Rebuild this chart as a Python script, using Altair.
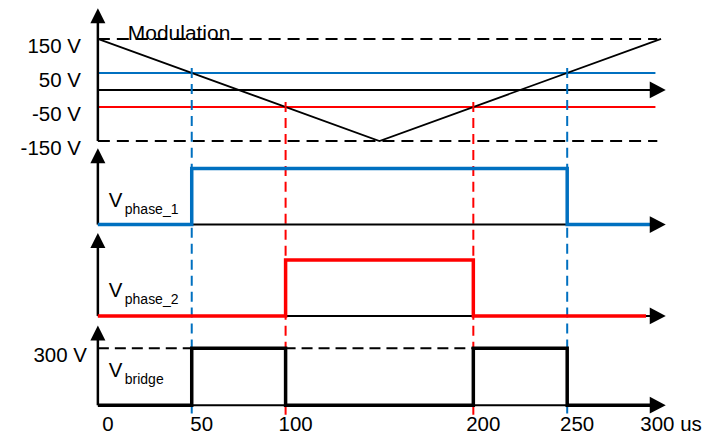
import altair as alt
import pandas as pd

# ---------------- data ----------------
tick_t = [0, 50, 100, 200, 250, 300]
tick_text = ["0", "50", "100", "200", "250", "300 us"]

# modulation (triangle carrier) in volts
mod_t = [0, 150, 300]
mod_v = [150, -150, 150]

# reference levels
carrier_v = [50, -50]
carrier_color = ["#0070C0", "#FF0000"]
limit_v = [150, -150]
volt_label_v = [150, 50, -50, -150]
volt_label_text = ["150 V", "50 V", "-50 V", "-150 V"]

# crossing instants (us)
cross_t = [50, 250, 100, 200]
cross_v = [50, 50, -50, -50]
cross_color = ["#0070C0", "#0070C0", "#FF0000", "#FF0000"]

# switching signals
phase1_t = [0, 50, 250, 295]
phase1_v = [0, 1, 0, 0]
phase2_t = [0, 100, 200, 292]
phase2_v = [0, 1, 0, 0]
bridge_t = [0, 50, 100, 200, 250, 295]
bridge_v = [0, 300, 0, 300, 0, 0]
bridge_level_v = [300]
bridge_level_text = ["300 V"]

# ---------------- style / layout ----------------
FONT = "Liberation Sans"
BLUE = "#0070C0"
RED = "#FF0000"
W = 564
AXIS_END = 302.5
LEVEL_END = 297
LIMIT_END = 298
UP = "M0,0L-1,2L1,2Z"
RIGHT = "M0,0L-2,-1.05L-2,1.05Z"

xs = alt.Scale(domain=[0, 300])


def X(f):
    return alt.X(f, type="quantitative", scale=xs, axis=None)


def Y(f, ys):
    return alt.Y(f, type="quantitative", scale=ys, axis=None)


def axes(ys, vbottom, vtop):
    vax = alt.Chart(pd.DataFrame({"t": [0], "v0": [vbottom], "v1": [vtop]})).mark_rule(
        color="black", strokeWidth=2.5, y2Offset=8
    ).encode(x=X("t"), y=Y("v0", ys), y2="v1")
    hax = alt.Chart(pd.DataFrame({"t0": [0], "t1": [AXIS_END], "v": [0]})).mark_rule(
        color="black", strokeWidth=2, x2Offset=-8
    ).encode(x=X("t0"), x2="t1", y=Y("v", ys))
    return vax, hax


def arrows(ys, vtop):
    up = alt.Chart(pd.DataFrame({"t": [0], "v": [vtop]})).mark_point(
        shape=UP, filled=True, size=225, color="black", opacity=1, strokeWidth=0
    ).encode(x=X("t"), y=Y("v", ys))
    right = alt.Chart(pd.DataFrame({"t": [AXIS_END], "v": [0]})).mark_point(
        shape=RIGHT, filled=True, size=256, color="black", opacity=1, strokeWidth=0
    ).encode(x=X("t"), y=Y("v", ys))
    return up, right


def sig_label(ys, sub, dyV, dySub):
    d = pd.DataFrame({"v": [0]})
    v = alt.Chart(d).mark_text(
        text="V", align="left", baseline="alphabetic", fontSize=20.5, font=FONT, dy=dyV, color="black"
    ).encode(x=alt.value(11), y=Y("v", ys))
    s = alt.Chart(d).mark_text(
        text=sub, align="left", baseline="alphabetic", fontSize=14, font=FONT, dy=dySub, color="black"
    ).encode(x=alt.value(27), y=Y("v", ys))
    return v, s


# ---------------- panel A: modulation ----------------
ysA = alt.Scale(domain=[-165, 240])
spacer = alt.Chart(pd.DataFrame({"a": [0]})).mark_rule(
    stroke="white", strokeWidth=1, opacity=0
).encode(x=alt.value(-90), x2=alt.value(0), y=alt.value(60))

limits = alt.Chart(pd.DataFrame({"v": limit_v, "t0": 0, "t1": LIMIT_END})).mark_rule(
    color="black", strokeWidth=2, strokeDash=[12, 7]
).encode(x=X("t0"), x2="t1", y=Y("v", ysA))

carriers = alt.Chart(pd.DataFrame({"v": carrier_v, "c": carrier_color, "t0": 0, "t1": LEVEL_END})).mark_rule(
    strokeWidth=2
).encode(x=X("t0"), x2="t1", y=Y("v", ysA), color=alt.Color("c:N", scale=None))

vaxA, haxA = axes(ysA, -150, 240)
upA, rightA = arrows(ysA, 240)

tri = alt.Chart(pd.DataFrame({"t": mod_t, "v": mod_v})).mark_line(
    color="black", strokeWidth=1.8
).encode(x=X("t"), y=Y("v", ysA))

vlabels = alt.Chart(pd.DataFrame({"v": volt_label_v, "text": volt_label_text})).mark_text(
    align="right", baseline="alphabetic", fontSize=20.5, font=FONT, dy=14, color="black"
).encode(x=alt.value(-17), y=Y("v", ysA), text="text:N")

modtext = alt.Chart(pd.DataFrame({"v": [150]})).mark_text(
    text="Modulation", align="left", baseline="alphabetic", fontSize=21, font=FONT, dy=1, color="black"
).encode(x=alt.value(30), y=Y("v", ysA))

crosses = alt.Chart(pd.DataFrame({"t": cross_t, "v": cross_v, "c": cross_color})).mark_rule(
    strokeWidth=2, strokeDash=[10, 6], yOffset=-5
).encode(x=X("t"), y=Y("v", ysA), y2=alt.value(407), color=alt.Color("c:N", scale=None))

panelA = alt.layer(
    spacer, limits, carriers, haxA, vaxA, tri, vlabels, modtext, crosses, upA, rightA
).properties(width=W, height=138)

# ---------------- panel B: phase 1 ----------------
ysB = alt.Scale(domain=[-0.15, 1.4])
vaxB, haxB = axes(ysB, 0, 1.36)
upB, rightB = arrows(ysB, 1.36)
sigB = alt.Chart(pd.DataFrame({"t": phase1_t, "v": phase1_v})).mark_line(
    color=BLUE, strokeWidth=3.5, interpolate="step-after", strokeJoin="miter", strokeCap="butt"
).encode(x=X("t"), y=Y("v", ysB))
lvB, lsB = sig_label(ysB, "phase_1", -17.5, -10.3)
panelB = alt.layer(haxB, vaxB, sigB, lvB, lsB, upB, rightB).properties(width=W, height=87)

# ---------------- panel C: phase 2 ----------------
ysC = alt.Scale(domain=[-0.07, 1.48])
vaxC, haxC = axes(ysC, 0, 1.48)
upC, rightC = arrows(ysC, 1.48)
sigC = alt.Chart(pd.DataFrame({"t": phase2_t, "v": phase2_v})).mark_line(
    color=RED, strokeWidth=3.5, interpolate="step-after", strokeJoin="miter", strokeCap="butt"
).encode(x=X("t"), y=Y("v", ysC))
lvC, lsC = sig_label(ysC, "phase_2", -18.8, -11.8)
panelC = alt.layer(haxC, vaxC, sigC, lvC, lsC, upC, rightC).properties(width=W, height=87)

# ---------------- panel D: bridge ----------------
ysD = alt.Scale(domain=[-50, 450])
vaxD, haxD = axes(ysD, 0, 420)
upD, rightD = arrows(ysD, 420)
levD = alt.Chart(pd.DataFrame({"v": bridge_level_v, "t0": [0], "t1": [250]})).mark_rule(
    color="black", strokeWidth=2, strokeDash=[11, 6]
).encode(x=X("t0"), x2="t1", y=Y("v", ysD))
levDtext = alt.Chart(pd.DataFrame({"v": bridge_level_v, "text": bridge_level_text})).mark_text(
    align="right", baseline="alphabetic", fontSize=20.5, font=FONT, dy=14, color="black"
).encode(x=alt.value(-11), y=Y("v", ysD), text="text:N")
sigD = alt.Chart(pd.DataFrame({"t": bridge_t, "v": bridge_v})).mark_line(
    color="black", strokeWidth=3.5, interpolate="step-after", strokeJoin="miter", strokeCap="butt"
).encode(x=X("t"), y=Y("v", ysD))
lvD, lsD = sig_label(ysD, "bridge", -28, -21)
ticks = alt.Chart(pd.DataFrame({"t": tick_t, "text": tick_text, "v": 0})).mark_text(
    align="center", baseline="middle", fontSize=20.5, font=FONT, dx=10, dy=20, color="black"
).encode(x=X("t"), y=Y("v", ysD), text="text:N")
panelD = alt.layer(
    levD, haxD, vaxD, sigD, levDtext, lvD, lsD, ticks, upD, rightD
).properties(width=W, height=95)

chart = alt.vconcat(panelA, panelB, panelC, panelD, spacing=0, bounds="flush").properties(
    padding={"left": 0, "top": 0, "right": 0, "bottom": 0}
).configure_view(strokeWidth=0)

chart.save("out.html", embed_options={"renderer": "svg", "actions": False})
